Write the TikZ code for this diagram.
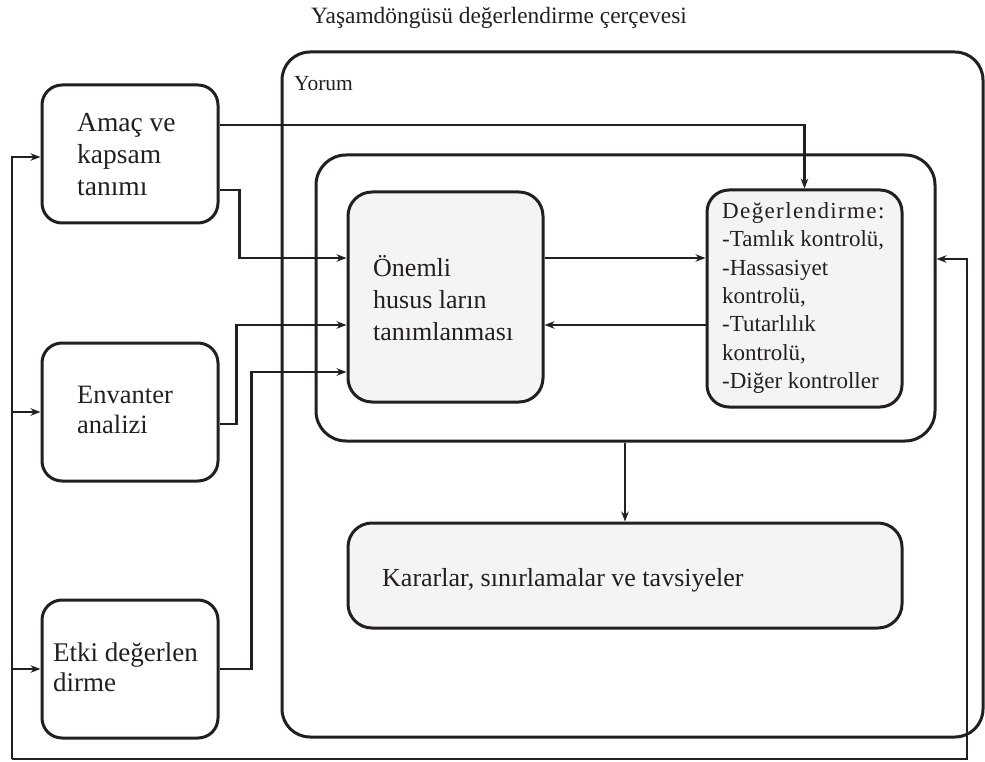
\documentclass[tikz,border=0pt]{standalone}
\usepackage{fontspec}
\setmainfont{Liberation Serif}
\usetikzlibrary{arrows.meta}
\definecolor{ink}{HTML}{231F20}
\definecolor{boxgray}{HTML}{F4F4F4}
\tikzset{
  frame/.style={draw=ink, line width=3pt, rounded corners=#1, inner sep=0pt},
  frame/.default=20pt,
  txt/.style={anchor=west, inner sep=0pt, align=left, text=ink},
  arr/.style={draw=ink, line width=2.8pt, -{Stealth[length=10pt,width=7.5pt]}}
}
\begin{document}
\begin{tikzpicture}[x=1pt,y=-1pt]
\useasboundingbox (0,0) rectangle (985,762);
% containers
\node[frame=28pt, minimum width=701pt, minimum height=685pt] (yorum) at (632.5,394.5) {};
\node[frame=30pt, minimum width=619pt, minimum height=286pt] (inner) at (625.5,298) {};
% boxes
\node[frame, minimum width=176pt, minimum height=138pt] (amac) at (130,154) {};
\node[frame, minimum width=176pt, minimum height=138pt] (env) at (130,412) {};
\node[frame, minimum width=176pt, minimum height=138pt] (etki) at (130,669) {};
\node[frame=24pt, fill=boxgray, minimum width=195pt, minimum height=210pt] (onem) at (445.5,297) {};
\node[frame=22pt, fill=boxgray, minimum width=195pt, minimum height=217pt] (deg) at (804.5,298.5) {};
\node[frame=24pt, fill=boxgray, minimum width=554pt, minimum height=105pt] (karar) at (625,575.5) {};
% texts
\node[inner sep=0pt, text=ink, font=\fontsize{23.4}{28}\selectfont] (title) at (499,18) {Yaşamdöngüsü değerlendirme çerçevesi};
\node[txt, font=\fontsize{21.5}{28}\selectfont] (yorumtxt) at (294,84) {Yorum};
\node[txt, font=\fontsize{27.5}{32}\selectfont] (amactxt) at (77,155) {Amaç ve\\kapsam\\tanımı};
\node[txt, font=\fontsize{26.5}{30}\selectfont] (envtxt) at (77,410) {Envanter\\analizi};
\node[txt, font=\fontsize{27}{30}\selectfont] (etkitxt) at (53,667) {Etki değerlen\\dirme};
\node[txt, font=\fontsize{26}{32}\selectfont] (onemtxt) at (373,298) {Önemli\\husus ların\\tanımlanması};
\node[txt, font=\fontsize{23}{28.3}\selectfont] (degtxt) at (722,298) {{\addfontfeature{LetterSpace=6}Değerlendirme:}\\-Tamlık kontrolü,\\-Hassasiyet\\kontrolü,\\-Tutarlılık\\kontrolü,\\-Diğer kontroller};
\node[txt, font=\fontsize{26}{30}\selectfont] (karartxt) at (382,580) {Kararlar, sınırlamalar ve tavsiyeler};
% connectors
\draw[arr] ([yshift=29pt]amac.east) -| (deg.north);
\draw[arr] ([yshift=-36pt]amac.east) -- ++(20pt,0) |- ([yshift=39pt]onem.west);
\draw[arr] ([yshift=-12pt]env.east) -- ++(17pt,0) |- ([yshift=-28pt]onem.west);
\draw[arr] (etki.east) -- ++(32pt,0) |- ([yshift=-75pt]onem.west);
\draw[arr] ([yshift=39pt]onem.east) -- ([yshift=39pt]onem.east -| deg.west);
\draw[arr] ([yshift=-28pt]onem.east -| deg.west) -- ([yshift=-28pt]onem.east);
\draw[arr] (inner.south -| karar.north) -- (karar.north);
% feedback loop
\coordinate (fbL) at (12,759);
\coordinate (fbR) at (967,759);
\draw[arr] (fbL) -- (fbR) |- ([yshift=39pt]inner.east);
\draw[arr] (fbL) |- ([yshift=-3pt]amac.west);
\draw[arr] (fbL |- env.west) -- (env.west);
\draw[arr] (fbL |- etki.west) -- (etki.west);
\end{tikzpicture}
\end{document}
